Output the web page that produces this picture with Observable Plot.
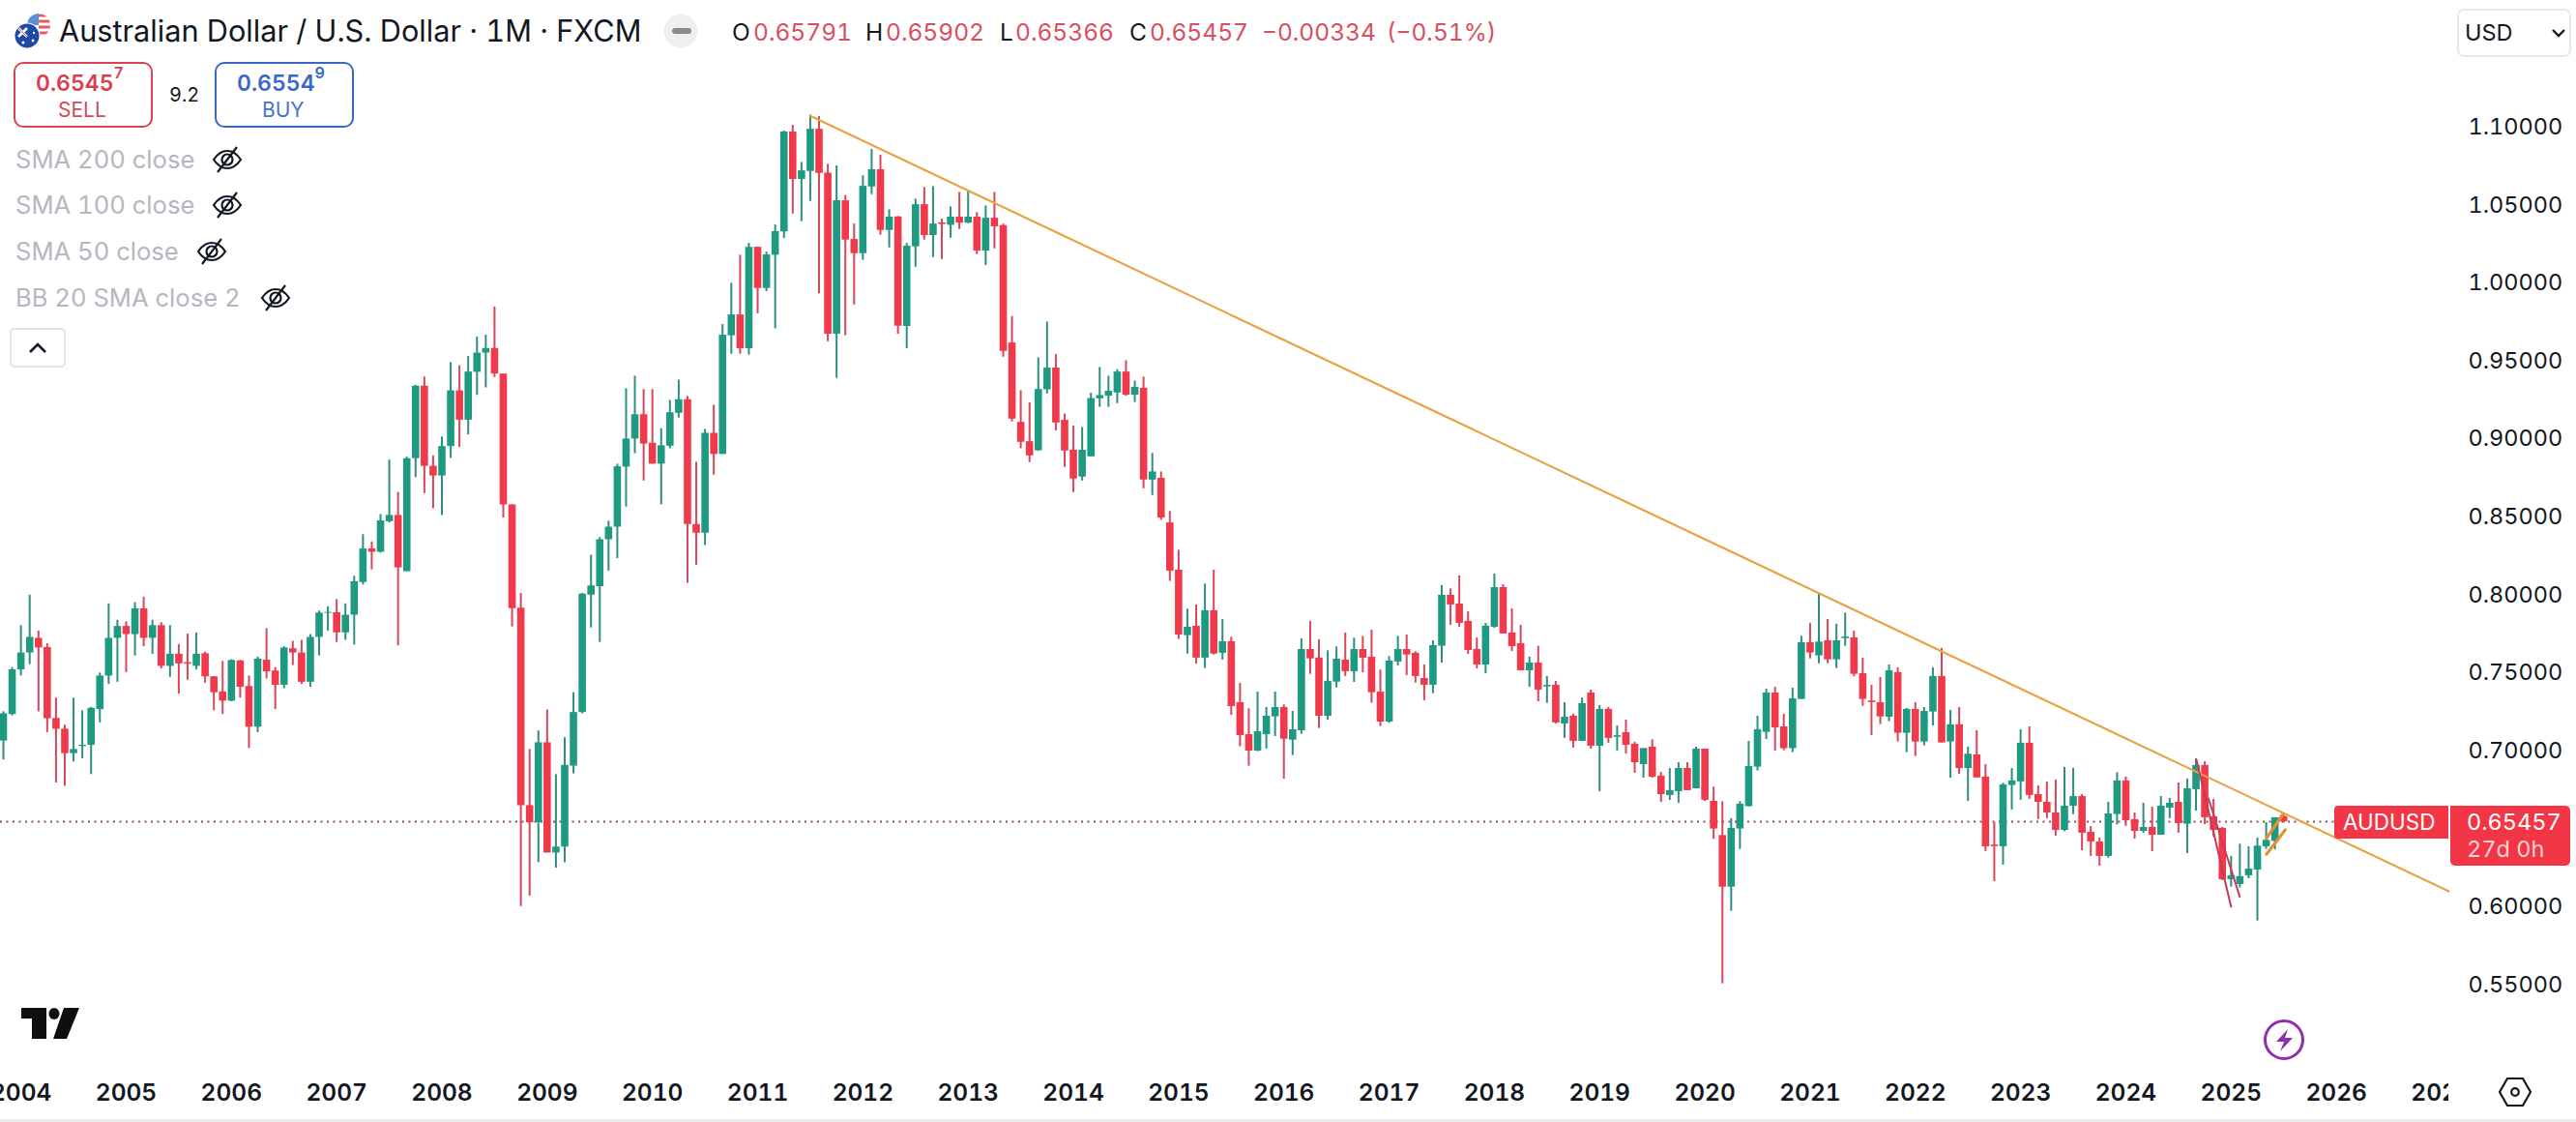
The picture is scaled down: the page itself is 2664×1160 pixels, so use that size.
<!DOCTYPE html>
<html>
<head>
<meta charset="utf-8">
<script src="https://cdn.jsdelivr.net/npm/d3@7"></script>
<script src="https://cdn.jsdelivr.net/npm/@observablehq/plot@0.6"></script>
<style>
  html, body { margin: 0; padding: 0; background: #fff; overflow: hidden; }
  #wrap { position: relative; width: 2664px; height: 1160px; overflow: hidden; font-family: Inter, sans-serif; color: #131722; }
  #chart svg { display: block; }
  .t { position: absolute; white-space: nowrap; font-variant-numeric: tabular-nums; }
  .box { position: absolute; box-sizing: border-box; background: #fff; }
  .icon { position: absolute; overflow: visible; }
  sup { font-size: 70%; vertical-align: top; line-height: 1; position: relative; top: 1px; }
</style>
</head>
<body>
<div id="wrap">
  <div id="chart"></div>
  <div id="overlay"></div>
</div>
<script>
// one candle per month, first one is Nov 2003
const firstMonth = 2003 + 10 / 12;

const opens = [
  .7063, .7233,
  .7520, .7628, .7722, .7663, .7208, .7139, .6982, .7028, .7036, .7265, .7480, .7722,
  .7798, .7746, .7911, .7722, .7803, .7542, .7620, .7566, .7542, .7623, .7475, .7378,
  .7319, .7577, .7413, .7152, .7582, .7512, .7421, .7655, .7628, .7440, .7728, .7882,
  .7886, .7757, .7870, .8080, .8295, .8274, .8470, .8510, .8150, .8874, .9339, .8825,
  .8763, .8952, .9309, .9121, .9428, .9551, .9581, .9417, .8578, .7916, .6649, .6539,
  .7052, .6345, .6383, .6902, .7246, .7999, .8053, .8354, .8435, .8820, .9000, .9156,
  .8973, .8839, .8954, .9165, .9252, .8452, .8396, .9037, .8901, .9662, .9796, .9579,
  1.0230, .9966, 1.0179, 1.0328, 1.0969, 1.0665, 1.0716, 1.0987, 1.0706, .9672, 1.0528, 1.0280,
  1.0189, 1.0617, 1.0727, 1.0338, 1.0425, .9722, 1.0233, 1.0503, 1.0305, 1.0386, 1.0371, 1.0423,
  1.0385, 1.0423, 1.0206, 1.0416, 1.0369, .9616, .9107, .8983, .8925, .9316, .9455, .9120,
  .8928, .8756, .8886, .9258, .9275, .9296, .9430, .9281, .9325, .8737, .8748, .8462,
  .8159, .7739, .7799, .7595, .7899, .7626, .7700, .7309, .7104, .6999, .7104, .7218,
  .7278, .7069, .7129, .7650, .7595, .7222, .7441, .7582, .7508, .7650, .7601, .7377,
  .7185, .7570, .7650, .7626, .7464, .7421, .7671, .7998, .7942, .7830, .7650, .7551,
  .7793, .8047, .7756, .7688, .7514, .7563, .7410, .7421, .7173, .7222, .7061, .7371,
  .7030, .7266, .7087, .7117, .7042, .6912, .7024, .6838, .6714, .6738, .6887, .6757,
  .7011, .6676, .6457, .6126, .6499, .6643, .6896, .7119, .7371, .7154, .7014, .7330,
  .7694, .7609, .7706, .7584, .7720, .7725, .7495, .7320, .7309, .7216, .7502, .7113,
  .7266, .7057, .7249, .7477, .7057, .7167, .6887, .6974, .6832, .6396, .6385, .6778,
  .6801, .7049, .6720, .6670, .6602, .6490, .6645, .6707, .6478, .6416, .6323, .6592,
  .6807, .6559, .6484, .6509, .6459, .6633, .6670, .6530, .6751, .6906, .6577, .6503,
  .6174, .6143, .6199, .6236, .6385, .6420, .65791
];
const closes = [
  .7238, .7520,
  .7628, .7728, .7660, .7206, .7139, .6982, .7009, .7036, .7273, .7480, .7722, .7798,
  .7746, .7911, .7722, .7803, .7542, .7620, .7558, .7556, .7620, .7475, .7373, .7319,
  .7580, .7408, .7152, .7588, .7507, .7421, .7660, .7628, .7440, .7728, .7884, .7888,
  .7757, .7870, .8085, .8295, .8274, .8475, .8510, .8174, .8874, .9339, .8825, .8763,
  .8952, .9309, .9121, .9430, .9551, .9581, .9417, .8578, .7913, .6649, .6539, .7052,
  .6345, .6383, .6907, .7246, .8005, .8058, .8354, .8435, .8822, .9000, .9156, .8968,
  .8839, .8957, .9169, .9252, .8452, .8396, .9037, .8901, .9666, .9796, .9579, 1.0230,
  .9966, 1.0181, 1.0330, 1.0969, 1.0665, 1.0720, 1.0987, 1.0704, .9672, 1.0528, 1.0276, 1.0189,
  1.0621, 1.0727, 1.0338, 1.0423, .9724, 1.0237, 1.0503, 1.0305, 1.0379, 1.0376, 1.0423, 1.0385,
  1.0423, 1.0206, 1.0416, 1.0361, .9562, .9128, .8979, .8892, .9318, .9455, .9103, .8923,
  .8744, .8928, .9260, .9279, .9306, .9430, .9281, .9331, .8737, .8789, .8493, .8153,
  .7743, .7793, .7595, .7899, .7621, .7700, .7284, .7098, .6999, .7123, .7222, .7278,
  .7075, .7135, .7650, .7590, .7222, .7446, .7588, .7508, .7650, .7595, .7373, .7185,
  .7576, .7650, .7615, .7477, .7421, .7675, .7998, .7936, .7818, .7644, .7551, .7799,
  .8047, .7750, .7669, .7514, .7563, .7390, .7420, .7179, .7216, .7061, .7303, .7030,
  .7266, .7080, .7097, .7036, .6924, .7015, .6831, .6720, .6745, .6887, .6745, .7011,
  .6683, .6499, .6126, .6503, .6658, .6900, .7136, .7371, .7148, .7014, .7334, .7694,
  .7628, .7698, .7584, .7706, .7730, .7491, .7330, .7310, .7218, .7514, .7113, .7266,
  .7057, .7253, .7477, .7051, .7167, .6887, .6978, .6827, .6385, .6386, .6782, .6807,
  .7049, .6714, .6670, .6602, .6490, .6645, .6707, .6472, .6416, .6323, .6596, .6807,
  .6552, .6484, .6509, .6459, .6645, .6664, .6534, .6757, .6906, .6571, .6490, .6174,
  .6199, .6194, .6242, .6389, .6426, .6571, .65457
];
const highs = [
  .7251, .7534,
  .7803, .7999, .7768, .7687, .7338, .7165, .7338, .7257, .7278, .7499, .7943, .7838,
  .7827, .7951, .7986, .7838, .7822, .7803, .7682, .7749, .7757, .7633, .7475, .7574,
  .7585, .7580, .7480, .7601, .7784, .7534, .7668, .7703, .7709, .7746, .7897, .7924,
  .7970, .7943, .8120, .8387, .8341, .8516, .8865, .8658, .8884, .9344, .9398, .8892,
  .9013, .9490, .9471, .9530, .9654, .9667, .9847, .9417, .8578, .8010, .7009, .7128,
  .7262, .6848, .7085, .7373, .8010, .8255, .8368, .8473, .8839, .9323, .9403, .9317,
  .9317, .9067, .9248, .9378, .9273, .8851, .9062, .9217, .9734, .9999, 1.0179, 1.0255,
  1.0230, 1.0199, 1.0373, 1.0975, 1.1012, 1.0774, 1.1078, 1.1068, 1.0762, 1.0752, 1.0563, 1.0379,
  1.0689, 1.0857, 1.0820, 1.0470, 1.0427, 1.0255, 1.0539, 1.0613, 1.0619, 1.0410, 1.0489, 1.0582,
  1.0594, 1.0452, 1.0495, 1.0582, 1.0379, .9786, .9310, .9232, .9521, .9751, .9542, .9161,
  .9083, .9074, .9294, .9459, .9403, .9445, .9502, .9372, .9397, .8907, .8789, .8535,
  .8287, .7909, .7936, .8070, .8159, .7843, .7729, .7433, .7270, .7377, .7278, .7377,
  .7295, .7253, .7719, .7830, .7712, .7642, .7667, .7756, .7723, .7733, .7774, .7518,
  .7605, .7735, .7743, .7636, .7551, .7706, .8060, .8039, .8122, .7892, .7725, .7818,
  .8134, .8066, .7911, .7805, .7601, .7671, .7477, .7446, .7309, .7235, .7340, .7390,
  .7291, .7278, .7160, .7197, .7055, .7015, .7071, .6862, .6887, .6924, .6924, .7024,
  .7011, .6767, .6674, .6565, .6674, .7061, .7222, .7396, .7408, .7235, .7402, .7735,
  .7818, .8008, .7843, .7812, .7884, .7768, .7595, .7421, .7471, .7551, .7533, .7272,
  .7309, .7278, .7533, .7657, .7260, .7278, .7024, .7129, .6912, .6540, .6792, .6887,
  .7136, .7154, .6776, .6800, .6813, .6894, .6887, .6720, .6515, .6441, .6670, .6860,
  .6832, .6602, .6664, .6639, .6707, .6695, .6794, .6819, .6949, .6931, .6689, .6509,
  .6323, .6401, .6385, .6441, .6540, .6571, .65902
];
const lows = [
  .6942, .7225,
  .7480, .7553, .7251, .7117, .6794, .6773, .6929, .6950, .6848, .7179, .7426, .7440,
  .7502, .7609, .7668, .7620, .7526, .7472, .7364, .7453, .7520, .7434, .7257, .7233,
  .7315, .7338, .7015, .7117, .7461, .7265, .7399, .7547, .7426, .7408, .7609, .7768,
  .7695, .7709, .7679, .8064, .8161, .8268, .8462, .7674, .8150, .8753, .8650, .8553,
  .8510, .8876, .8946, .9027, .9280, .9328, .9395, .8494, .7795, .6002, .6068, .6283,
  .6345, .6248, .6283, .6853, .7238, .7789, .7696, .8153, .8233, .8564, .8906, .8731,
  .8839, .8578, .8938, .9134, .8075, .8190, .8317, .8768, .8901, .9544, .9544, .9538,
  .9804, .9945, .9707, 1.0286, 1.0443, 1.0394, 1.0524, .9931, .9624, .9389, .9662, .9860,
  1.0146, 1.0567, 1.0307, 1.0226, .9672, .9579, 1.0102, 1.0276, 1.0164, 1.0152, 1.0288, 1.0344,
  1.0381, 1.0183, 1.0113, 1.0220, .9525, .9110, .8938, .8849, .8921, .9289, .9052, .8818,
  .8657, .8731, .8886, .9203, .9203, .9227, .9275, .9234, .8681, .8638, .8479, .8087,
  .7714, .7621, .7557, .7528, .7615, .7582, .7228, .7026, .6902, .6995, .7011, .7092,
  .6819, .6970, .7106, .7491, .7144, .7197, .7404, .7477, .7439, .7501, .7305, .7156,
  .7177, .7545, .7483, .7435, .7322, .7367, .7563, .7805, .7793, .7619, .7526, .7495,
  .7787, .7750, .7638, .7514, .7408, .7315, .7305, .7173, .7080, .7018, .7061, .7011,
  .6738, .7049, .6999, .6980, .6856, .6825, .6825, .6670, .6683, .6664, .6745, .6757,
  .6676, .6432, .5506, .5971, .6368, .6639, .6871, .7073, .6999, .7001, .6989, .7330,
  .7590, .7559, .7559, .7528, .7671, .7475, .7286, .7098, .7169, .7187, .7057, .6989,
  .6964, .7032, .7160, .7051, .6825, .6850, .6676, .6827, .6354, .6161, .6267, .6621,
  .6683, .6689, .6559, .6565, .6453, .6482, .6590, .6360, .6323, .6261, .6312, .6525,
  .6515, .6434, .6472, .6354, .6459, .6565, .6472, .6341, .6614, .6527, .6447, .6168,
  .6126, .6120, .6180, .5909, .6368, .6366, .65366
];

const yearTicks = d3.range(2004, 2028);
const priceTicks = [1.10, 1.05, 1.00, 0.95, 0.90, 0.85, 0.80, 0.75, 0.70, 0.60, 0.55];
const lastPrice = 0.65457;

// drawings on the chart: [time, price]
const trendLine = [[2011.5, 1.1073], [2027.069, 0.6099]];
const redLegA = [[2024.671, 0.6943], [2025.0, 0.6]];
const redLegB = [[2024.785, 0.6695], [2025.083, 0.6064]];
const channelUp = [[2025.336, 0.6440], [2025.49, 0.6591]];
const channelDown = [[2025.336, 0.6337], [2025.515, 0.6494]];

const indicators = [
  { name: "SMA 200 close", top: 165, eye: 235 },
  { name: "SMA 100 close", top: 212, eye: 235 },
  { name: "SMA 50 close", top: 260, eye: 219 },
  { name: "BB 20 SMA close 2", top: 308, eye: 285 }
];

const up = "#1f9a82", down = "#f0394a";
const upWick = "#2f8f7e", downWick = "#d8465a";
const orange = "#e8a345";

const candles = opens.map((o, i) => ({
  t: firstMonth + i / 12,
  open: o, high: highs[i], low: lows[i], close: closes[i],
  rising: closes[i] >= o
}));

const chart = Plot.plot({
  width: 2664,
  height: 1160,
  marginLeft: 0,
  marginRight: 132,
  marginTop: 0,
  marginBottom: 50,
  style: { fontFamily: "Inter, sans-serif", background: "transparent", color: "#131722" },
  x: { type: "linear", domain: [2003.8058, 2027.069], label: null },
  y: { type: "linear", domain: [0.49268, 1.18127], label: null },
  marks: [
    Plot.ruleY([lastPrice], { stroke: "#85505a", strokeWidth: 2, strokeDasharray: "2 4.5" }),
    Plot.ruleX(candles, { x: "t", y1: "low", y2: "high", stroke: (d) => d.rising ? upWick : downWick, strokeWidth: 2 }),
    Plot.ruleX(candles, { x: "t", y1: "open", y2: "close", stroke: (d) => d.rising ? up : down, strokeWidth: 7.6 }),
    Plot.line(trendLine, { stroke: orange, strokeWidth: 2.2 }),
    Plot.line(redLegA, { stroke: "#c93a52", strokeWidth: 2 }),
    Plot.line(redLegB, { stroke: "#c93a52", strokeWidth: 2 }),
    Plot.line(channelUp, { stroke: "#e58f2e", strokeWidth: 3.2 }),
    Plot.line(channelDown, { stroke: "#e58f2e", strokeWidth: 3.2 }),
    Plot.axisX({
      ticks: yearTicks, tickFormat: "d", tickSize: 0, tickPadding: 10,
      label: null, fontSize: 24.5, fontWeight: 600, fill: "#131722"
    }),
    Plot.axisY({
      anchor: "right", ticks: priceTicks, tickFormat: ".5f", tickSize: 0, tickPadding: 20,
      label: null, fontSize: 23.5, fill: "#131722"
    })
  ]
});
document.querySelector("#chart").append(chart);

// everything TradingView paints over the pane
const overlay = document.querySelector("#overlay");
function add(html) { overlay.insertAdjacentHTML("beforeend", html); }
function text(str, left, mid, size, color, extra = "") {
  add(`<div class="t" style="left:${left}px;top:${mid - 20}px;line-height:40px;font-size:${size}px;color:${color};${extra}">${str}</div>`);
}
function box(l, t, w, h, css) {
  add(`<div class="box" style="left:${l}px;top:${t}px;width:${w}px;height:${h}px;${css}"></div>`);
}

// flags
add(`<svg class="icon" style="left:0;top:0" width="70" height="60">
  <defs><clipPath id="us"><circle cx="40" cy="26" r="12"/></clipPath></defs>
  <g clip-path="url(#us)">
    <rect x="28" y="14" width="24" height="24" fill="#fff"/>
    <path d="M40 16h12M40 22h12M40 28h12M28 34h24" stroke="#e45b66" stroke-width="3"/>
    <rect x="28" y="14" width="12" height="12" fill="#5b8fd6"/>
  </g>
  <circle cx="28" cy="37" r="13.5" fill="#fff"/>
  <circle cx="28" cy="37" r="12.5" fill="#1f49a8"/>
  <path d="M19 29l9 9M28 29l-9 9" stroke="#fff" stroke-width="2.6"/><path d="M19 29l9 9" stroke="#d8465a" stroke-width="1"/>
  <circle cx="34" cy="42" r="1.4" fill="#fff"/><circle cx="35" cy="34" r="1.2" fill="#fff"/><circle cx="24" cy="44" r="1.5" fill="#fff"/>
</svg>`);
text("Australian Dollar / U.S. Dollar · 1M · FXCM", 61, 32, 30.7, "#131722");
add(`<svg class="icon" style="left:686px;top:14px" width="36" height="36"><circle cx="18" cy="18" r="17.5" fill="#efefef"/><rect x="9" y="15" width="20" height="6" rx="3" fill="#8a8a8a"/></svg>`);

// OHLC line
const ohlcRed = "#d8505f";
[["O", 757, "0.65791", 779], ["H", 895, "0.65902", 916], ["L", 1034, "0.65366", 1050], ["C", 1168, "0.65457", 1189]].forEach(([k, kx, v, vx]) => {
  text(k, kx, 33, 24.5, "#131722");
  text(v, vx, 33, 24.5, ohlcRed);
});
text("−0.00334", 1305, 33, 24.5, ohlcRed);
text("(−0.51%)", 1434, 33, 24.5, ohlcRed);

// sell / buy
box(14, 64, 144, 68, "border:2px solid #d9434f;border-radius:10px");
box(222, 64, 144, 68, "border:2px solid #3868c8;border-radius:10px");
text("0.6545<sup>7</sup>", 37, 86, 23, "#d9404f", "font-weight:600");
text("SELL", 60, 114, 21, "#cf4d5a");
text("9.2", 175, 98, 20, "#131722");
text("0.6554<sup>9</sup>", 245, 86, 23, "#3868c8", "font-weight:600");
text("BUY", 271, 114, 21, "#4a74c9");

// hidden indicators
indicators.forEach((d) => {
  text(d.name, 16, d.top, 25.6, "#b4b7bf");
  add(`<svg class="icon" style="left:${d.eye - 17}px;top:${d.top - 17}px" width="34" height="34" viewBox="0 0 34 34" fill="none" stroke="#131722" stroke-width="2.2">
    <path d="M3 17c4-6 9-9 14-9s10 3 14 9c-4 6-9 9-14 9s-10-3-14-9z"/><circle cx="17" cy="17" r="5.5"/><path d="M27 4L7 30"/></svg>`);
});
box(10, 339, 58, 41, "border:2px solid #e0e3eb;border-radius:5px");
add(`<svg class="icon" style="left:28px;top:351px" width="22" height="16" fill="none" stroke="#131722" stroke-width="2.6"><path d="M3 13l8-8 8 8"/></svg>`);

// currency select
box(2541, 9, 118, 50, "border:2px solid #e8e9ee;border-radius:7px");
text("USD", 2549, 34, 23.5, "#131722");
add(`<svg class="icon" style="left:2638px;top:29px" width="16" height="10" fill="none" stroke="#131722" stroke-width="2.4"><path d="M2 2l6 6 6-6"/></svg>`);

// last price tags
box(2414, 833, 118, 34, "background:#f23645;border-radius:4px 0 0 4px");
text("AUDUSD", 2423, 850, 22.5, "#fff");
box(2534, 833, 124, 62, "background:#f23645;border-radius:0 5px 5px 5px");
text("0.65457", 2551, 850, 23.5, "#fff");
text("27d 0h", 2551, 878, 23.5, "#ffd0d4");

// TV logo, lightning, settings
add(`<svg class="icon" style="left:0;top:1030px" width="100" height="50">
  <path d="M22 12h26v32H33V23H22z" fill="#0f0f0f"/><ellipse cx="56" cy="18" rx="5.5" ry="6" fill="#0f0f0f"/><path d="M66 12h16L69 44H55z" fill="#0f0f0f"/></svg>`);
add(`<svg class="icon" style="left:2340px;top:1053px" width="44" height="44">
  <circle cx="22" cy="22" r="19.5" fill="none" stroke="#8e2fb0" stroke-width="3"/><path d="M26 11L14 24h8l-4 10 13-14h-8z" fill="#8e2fb0"/></svg>`);
box(2532, 1098, 132, 58, "");
add(`<svg class="icon" style="left:2584px;top:1113px" width="34" height="32" fill="none" stroke="#131722" stroke-width="2.2">
  <path d="M9 2h16l8 14-8 14H9L1 16z"/><circle cx="17" cy="16" r="3.8"/></svg>`);
box(0, 1157, 2664, 3, "background:#ececec");
</script>
</body>
</html>
